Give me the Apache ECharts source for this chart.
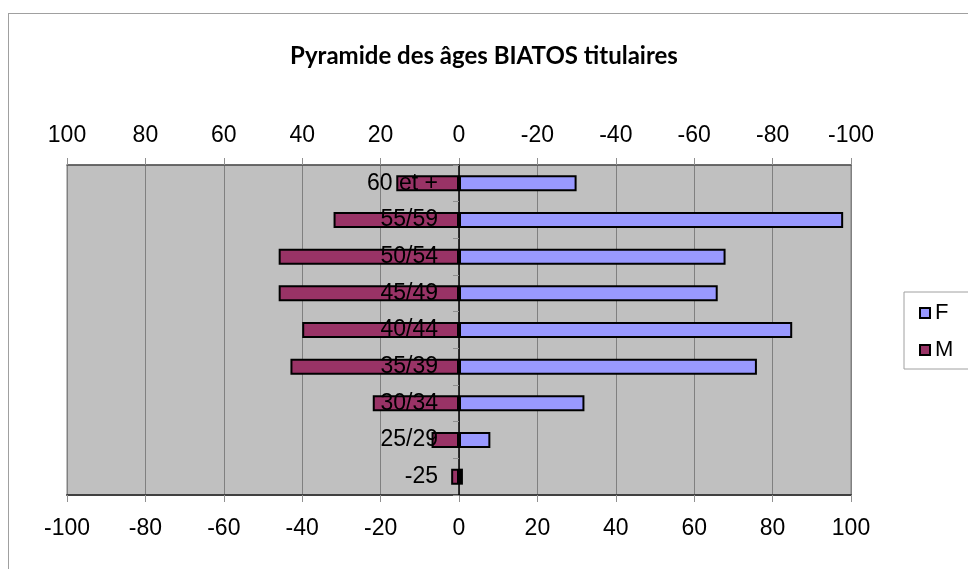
<!DOCTYPE html>
<html>
<head>
<meta charset="utf-8">
<script src="https://cdn.jsdelivr.net/npm/echarts@6/dist/echarts.min.js"></script>
<style>
  html, body { margin: 0; padding: 0; background: #fff; }
  #frame { position: absolute; left: 8px; top: 13px; width: 1200px; height: 800px; border-left: 1px solid #a0a0a0; border-top: 1px solid #a0a0a0; }
  #chart { position: absolute; left: 0; top: 0; width: 968px; height: 569px; }
</style>
</head>
<body>
<div id="frame"></div>
<div id="chart"></div>
<script>
// tranches d'âge, du bas vers le haut
var categories = ['-25', '25/29', '30/34', '35/39', '40/44', '45/49', '50/54', '55/59', '60 et +'];
// femmes (vers la droite)
var valuesF = [1, 8, 32, 76, 85, 66, 68, 98, 30];
// hommes (vers la gauche, valeurs négatives)
var valuesM = [-2, -7, -22, -43, -40, -46, -46, -32, -16];

var chart = echarts.init(document.getElementById('chart'));
var labelFont = { color: '#000', fontSize: 23, fontFamily: 'Liberation Sans, Arial, sans-serif' };

chart.setOption({
  animation: false,
  title: {
    text: 'Pyramide des âges BIATOS titulaires',
    left: 'center',
    top: 39,
    textStyle: { fontFamily: 'Lato, sans-serif', fontWeight: 'bold', fontSize: 24, color: '#000' }
  },
  graphic: [{
    type: 'rect',
    shape: { x: 904, y: 292, width: 120, height: 77 },
    style: { fill: '#fff', stroke: '#a0a0a0', lineWidth: 1 },
    z: -1
  }],
  legend: {
    orient: 'vertical',
    left: 914,
    top: 297,
    itemWidth: 10,
    itemHeight: 10,
    itemGap: 15,
    icon: 'rect',
    textStyle: Object.assign({}, labelFont, { fontSize: 22 }),
    data: ['F', 'M']
  },
  grid: {
    left: 67, right: 117, top: 165, bottom: 74,
    outerBoundsMode: 'none',
    containLabel: false,
    show: true,
    backgroundColor: '#c0c0c0',
    borderColor: '#808080',
    borderWidth: 1
  },
  xAxis: [{
    type: 'value',
    position: 'bottom',
    min: -100, max: 100, interval: 20,
    axisLine: { show: true, onZero: false, lineStyle: { color: '#404040', width: 2 } },
    axisTick: { show: true, length: 7, lineStyle: { color: '#909090' } },
    axisLabel: Object.assign({ margin: 22 }, labelFont),
    splitLine: { show: true, lineStyle: { color: '#808080', width: 1 } }
  }, {
    type: 'value',
    position: 'top',
    inverse: true,
    min: -100, max: 100, interval: 20,
    axisLine: { show: true, onZero: false, lineStyle: { color: '#505050', width: 1.5 } },
    axisTick: { show: true, length: 7, lineStyle: { color: '#909090' } },
    axisLabel: Object.assign({ margin: 18 }, labelFont),
    splitLine: { show: false }
  }],
  yAxis: {
    type: 'category',
    data: categories,
    z: 10,
    // axe des catégories placé sur le zéro (centre du graphique)
    offset: -392,
    axisLine: { show: true, onZero: false, lineStyle: { color: '#000', width: 1.5 } },
    axisTick: { show: true, length: 6, inside: false, lineStyle: { color: '#909090' } },
    axisLabel: Object.assign({ margin: 21 }, labelFont),
    splitLine: { show: false }
  },
  series: [{
    name: 'F',
    type: 'bar',
    xAxisIndex: 0,
    barWidth: 16,
    barGap: '-100%',
    itemStyle: { color: '#9999ff', borderColor: '#000', borderWidth: 2 },
    data: valuesF
  }, {
    name: 'M',
    type: 'bar',
    xAxisIndex: 0,
    barWidth: 16,
    barGap: '-100%',
    itemStyle: { color: '#993366', borderColor: '#000', borderWidth: 2 },
    data: valuesM
  }]
});
</script>
</body>
</html>
